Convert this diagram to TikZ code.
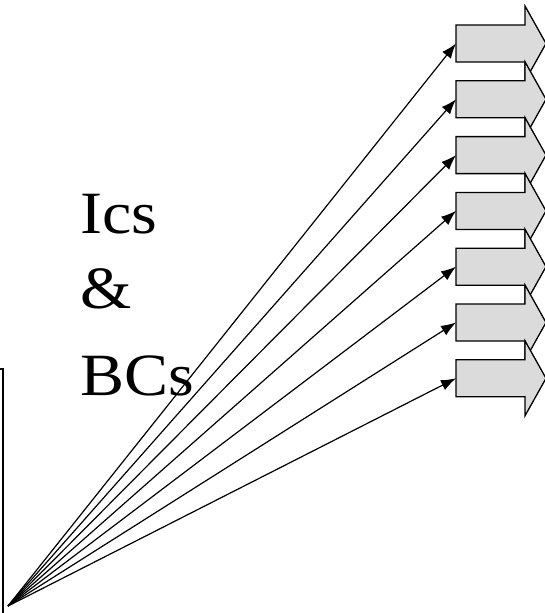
\documentclass[tikz,border=0pt]{standalone}
\usepackage{fontspec}
\setmainfont{Liberation Serif}
\newfontfamily\widefont[FakeStretch=1.1]{Liberation Serif}
\usetikzlibrary{arrows.meta}

\tikzset{
  blockarrow/.style={draw=black, line width=1.3pt, fill=gray!28, line join=miter},
  ray/.style={line width=1.2pt, -{Latex[length=15pt,width=11pt]}},
  bigtext/.style={anchor=base west, inner sep=0pt, font=\widefont\fontsize{60}{66}\selectfont}
}

\begin{document}
\begin{tikzpicture}[x=1pt,y=-1pt]
  \useasboundingbox (0,0) rectangle (544,613);
  % box on the left
  \draw[line width=1.3pt] (-10,369) -- (3,369) -- (3,620);
  \coordinate (src) at (8,606);
  % block arrows and rays
  \foreach \i in {0,...,6}{
    \coordinate (b\i) at (456,{43.5+55.8*\i});
    \draw[blockarrow] (b\i) ++(0,-18.5) -- ++(69,0) -- ++(0,-19) -- ++(21,37.5)
      -- ++(-21,37.5) -- ++(0,-19) -- ++(-69,0) -- cycle;
    \draw[ray] (src) -- (b\i);
  }
  \node[bigtext] (ics) at (80,233) {Ics};
  \node[bigtext] (amp) at (80,308) {\&};
  \node[bigtext] (bcs) at (80,395) {BCs};
\end{tikzpicture}
\end{document}
